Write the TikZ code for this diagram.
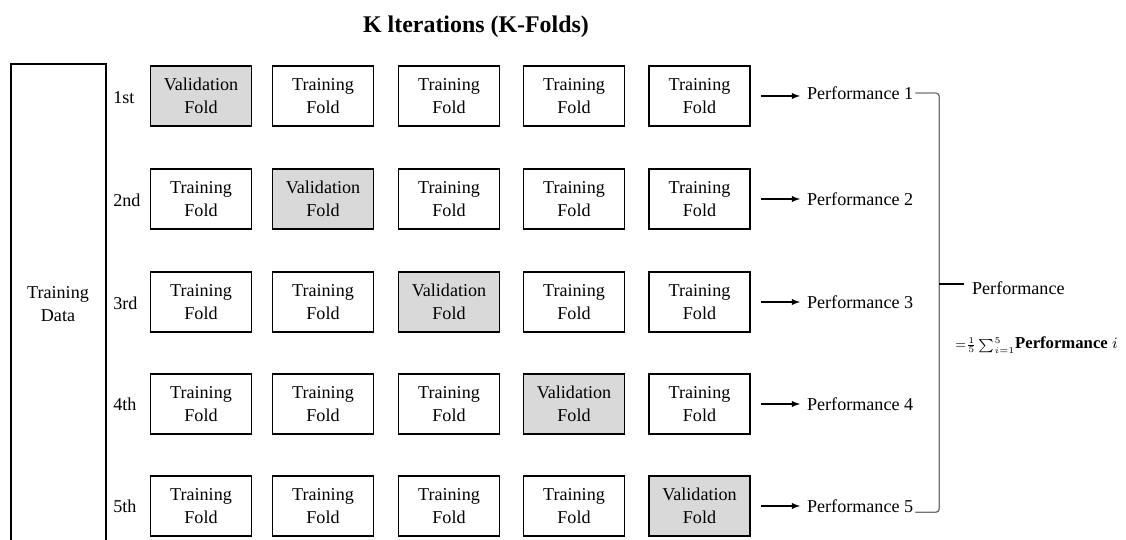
\documentclass[tikz,border=0pt]{standalone}
\usepackage{amsmath}
\usepackage{fontspec}
\setmainfont{Liberation Serif}
\usepackage{tikz}
\usetikzlibrary{positioning,calc}
\definecolor{valgray}{gray}{0.85}
\tikzset{
    every node/.style={font=\fontsize{10.3}{13}\selectfont},
    fold/.style={draw,line width=0.9pt,minimum width=2.02cm,minimum height=1.2cm,align=center,inner sep=1pt},
    trainfold/.style={fold,fill=white},
    valfold/.style={fold,fill=valgray},
    ordlabel/.style={anchor=west,inner sep=0pt},
    perflabel/.style={anchor=west,inner sep=1pt},
    perfarrow/.style={-latex,line width=0.6pt,shorten <=0.2cm,shorten >=0.1cm},
    bracket/.style={line width=0.8pt,draw=black!55,rounded corners=2pt}
}

\begin{document}
\begin{tikzpicture}
    \useasboundingbox (0,0) rectangle (22.52,10.8);
    \node[font=\bfseries\fontsize{13.6}{16}\selectfont,anchor=base] (title) at (9.52,10.14) {K lterations (K-Folds)};
    \draw[line width=0.8pt] (0.22,0) -- (0.22,9.52) -- (2.12,9.52) -- (2.12,0);
    \node[align=center] (data) at (1.16,4.72) {Training\\Data};
    \node[ordlabel] (o1) at (2.26,8.84) {1st};
    \node[ordlabel] (o2) at (2.26,6.80) {2nd};
    \node[ordlabel] (o3) at (2.26,4.74) {3rd};
    \node[ordlabel] (o4) at (2.26,2.72) {4th};
    \node[ordlabel] (o5) at (2.26,0.68) {5th};
    \node[valfold] (r1c1) at (4.02,8.88) {Validation\\Fold};
    \node[trainfold] (r1c2) at (6.46,8.88) {Training\\Fold};
    \node[trainfold] (r1c3) at (8.98,8.88) {Training\\Fold};
    \node[trainfold] (r1c4) at (11.48,8.88) {Training\\Fold};
    \node[trainfold] (r1c5) at (13.99,8.88) {Training\\Fold};
    \node[trainfold] (r2c1) at (4.02,6.82) {Training\\Fold};
    \node[valfold] (r2c2) at (6.46,6.82) {Validation\\Fold};
    \node[trainfold] (r2c3) at (8.98,6.82) {Training\\Fold};
    \node[trainfold] (r2c4) at (11.48,6.82) {Training\\Fold};
    \node[trainfold] (r2c5) at (13.99,6.82) {Training\\Fold};
    \node[trainfold] (r3c1) at (4.02,4.76) {Training\\Fold};
    \node[trainfold] (r3c2) at (6.46,4.76) {Training\\Fold};
    \node[valfold] (r3c3) at (8.98,4.76) {Validation\\Fold};
    \node[trainfold] (r3c4) at (11.48,4.76) {Training\\Fold};
    \node[trainfold] (r3c5) at (13.99,4.76) {Training\\Fold};
    \node[trainfold] (r4c1) at (4.02,2.72) {Training\\Fold};
    \node[trainfold] (r4c2) at (6.46,2.72) {Training\\Fold};
    \node[trainfold] (r4c3) at (8.98,2.72) {Training\\Fold};
    \node[valfold] (r4c4) at (11.48,2.72) {Validation\\Fold};
    \node[trainfold] (r4c5) at (13.99,2.72) {Training\\Fold};
    \node[trainfold] (r5c1) at (4.02,0.68) {Training\\Fold};
    \node[trainfold] (r5c2) at (6.46,0.68) {Training\\Fold};
    \node[trainfold] (r5c3) at (8.98,0.68) {Training\\Fold};
    \node[trainfold] (r5c4) at (11.48,0.68) {Training\\Fold};
    \node[valfold] (r5c5) at (13.99,0.68) {Validation\\Fold};
    \node[perflabel] (p1) at (16.1,8.94) {Performance 1};
    \node[perflabel] (p2) at (16.1,6.82) {Performance 2};
    \node[perflabel] (p3) at (16.1,4.76) {Performance 3};
    \node[perflabel] (p4) at (16.1,2.72) {Performance 4};
    \node[perflabel] (p5) at (16.1,0.68) {Performance 5};
    \draw[perfarrow] (r1c5.east) -- (p1.west |- r1c5.east);
    \draw[perfarrow] (r2c5.east) -- (p2.west);
    \draw[perfarrow] (r3c5.east) -- (p3.west);
    \draw[perfarrow] (r4c5.east) -- (p4.west);
    \draw[perfarrow] (r5c5.east) -- (p5.west);
    \draw[bracket] (p1.east) -- ++(0.48,0) |- (p5.base east);
    \coordinate (brk) at ($(p1.east)+(0.48,0)$);
    \coordinate (mid) at (brk |- 0,5.12);
    \node[perflabel] (perf) at (19.4,5.04) {Performance};
    \node[anchor=west,inner sep=0pt,font=\fontsize{9.5}{11}\selectfont] (avg) at (19.1,3.9) {{\fontsize{7.5}{9}\selectfont$\mathord{=}\frac{1}{5}\sum_{i=1}^{5}$}\textbf{Performance} $i$};
    \draw[line width=0.6pt,shorten >=0.12cm] (mid) -- (mid -| perf.west);
\end{tikzpicture}
\end{document}
